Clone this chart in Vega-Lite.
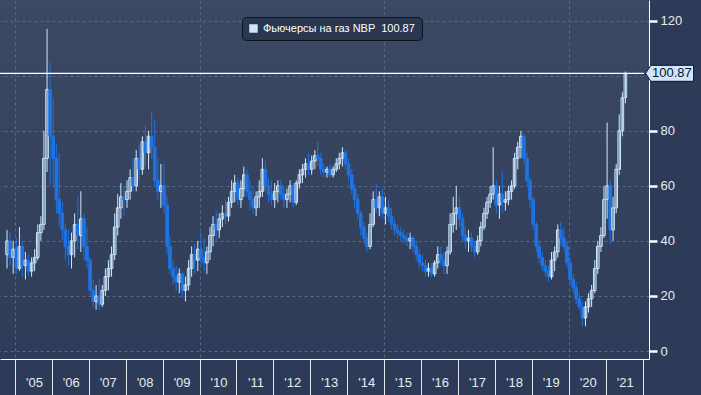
{
  "$schema": "https://vega.github.io/schema/vega-lite/v6.json",
  "width": 649,
  "height": 359,
  "autosize": {"type": "none"},
  "padding": {"left": 0, "top": 0, "right": 52, "bottom": 36},
  "background": "#2d3b58",
  "config": {
    "view": {"stroke": null, "fill": {"gradient": "linear", "x1": 0, "y1": 0, "x2": 0, "y2": 1, "stops": [{"offset": 0, "color": "#3b4964"}, {"offset": 1, "color": "#2e3c59"}]}},
    "font": "Liberation Sans",
    "axisX": {"labelOverlap": false, "ticks": true, "tickOpacity": 1, "tickSize": 36, "tickColor": "#e6e9ee", "tickWidth": 1},
    "legend": {"orient": "none", "legendX": 242, "legendY": 17, "fillColor": "#2b374f", "strokeColor": "#0f141c", "cornerRadius": 4, "padding": 6, "labelColor": "#ffffff", "labelFont": "Liberation Sans", "labelFontSize": 11, "symbolType": "square", "symbolSize": 72, "symbolStrokeWidth": 0, "symbolOpacity": 1}
  },
  "datasets": {
    "nbp": [
      {"d":"2004-10-15","o":35,"h":44,"l":30,"c":40},
      {"d":"2004-11-15","o":40,"h":43,"l":31,"c":34},
      {"d":"2004-12-15","o":34,"h":40,"l":28,"c":37},
      {"d":"2005-01-15","o":37,"h":41,"l":28,"c":30},
      {"d":"2005-02-15","o":30,"h":45,"l":29,"c":38},
      {"d":"2005-03-15","o":38,"h":40,"l":27,"c":31},
      {"d":"2005-04-15","o":31,"h":36,"l":26,"c":33},
      {"d":"2005-05-15","o":33,"h":35,"l":27,"c":29},
      {"d":"2005-06-15","o":29,"h":34,"l":27,"c":32},
      {"d":"2005-07-15","o":32,"h":37,"l":29,"c":34},
      {"d":"2005-08-15","o":34,"h":46,"l":33,"c":43},
      {"d":"2005-09-15","o":43,"h":49,"l":40,"c":46},
      {"d":"2005-10-15","o":46,"h":80,"l":44,"c":70},
      {"d":"2005-11-15","o":70,"h":117,"l":65,"c":95},
      {"d":"2005-12-15","o":95,"h":105,"l":60,"c":78},
      {"d":"2006-01-15","o":78,"h":92,"l":60,"c":70},
      {"d":"2006-02-15","o":70,"h":75,"l":50,"c":55},
      {"d":"2006-03-15","o":55,"h":72,"l":45,"c":50},
      {"d":"2006-04-15","o":50,"h":54,"l":40,"c":44},
      {"d":"2006-05-15","o":44,"h":46,"l":33,"c":38},
      {"d":"2006-06-15","o":38,"h":44,"l":31,"c":35},
      {"d":"2006-07-15","o":35,"h":43,"l":30,"c":40},
      {"d":"2006-08-15","o":40,"h":50,"l":34,"c":46},
      {"d":"2006-09-15","o":46,"h":56,"l":37,"c":42},
      {"d":"2006-10-15","o":42,"h":58,"l":36,"c":48},
      {"d":"2006-11-15","o":48,"h":50,"l":33,"c":38},
      {"d":"2006-12-15","o":38,"h":45,"l":30,"c":33},
      {"d":"2007-01-15","o":33,"h":34,"l":20,"c":22},
      {"d":"2007-02-15","o":22,"h":26,"l":16,"c":18},
      {"d":"2007-03-15","o":18,"h":24,"l":15,"c":20},
      {"d":"2007-04-15","o":20,"h":26,"l":15,"c":17},
      {"d":"2007-05-15","o":17,"h":24,"l":16,"c":22},
      {"d":"2007-06-15","o":22,"h":30,"l":20,"c":27},
      {"d":"2007-07-15","o":27,"h":33,"l":22,"c":30},
      {"d":"2007-08-15","o":30,"h":38,"l":27,"c":35},
      {"d":"2007-09-15","o":35,"h":50,"l":33,"c":45},
      {"d":"2007-10-15","o":45,"h":57,"l":42,"c":52},
      {"d":"2007-11-15","o":52,"h":61,"l":48,"c":56},
      {"d":"2007-12-15","o":56,"h":60,"l":49,"c":55},
      {"d":"2008-01-15","o":55,"h":62,"l":52,"c":58},
      {"d":"2008-02-15","o":58,"h":66,"l":55,"c":63},
      {"d":"2008-03-15","o":63,"h":70,"l":58,"c":60},
      {"d":"2008-04-15","o":60,"h":73,"l":58,"c":70},
      {"d":"2008-05-15","o":70,"h":75,"l":62,"c":66},
      {"d":"2008-06-15","o":66,"h":78,"l":64,"c":76},
      {"d":"2008-07-15","o":76,"h":82,"l":67,"c":72},
      {"d":"2008-08-15","o":72,"h":80,"l":66,"c":78},
      {"d":"2008-09-15","o":78,"h":87,"l":70,"c":74},
      {"d":"2008-10-15","o":74,"h":84,"l":60,"c":62},
      {"d":"2008-11-15","o":62,"h":70,"l":55,"c":58},
      {"d":"2008-12-15","o":58,"h":68,"l":52,"c":60},
      {"d":"2009-01-15","o":60,"h":68,"l":50,"c":53},
      {"d":"2009-02-15","o":53,"h":56,"l":35,"c":38},
      {"d":"2009-03-15","o":38,"h":42,"l":28,"c":30},
      {"d":"2009-04-15","o":30,"h":33,"l":24,"c":27},
      {"d":"2009-05-15","o":27,"h":31,"l":22,"c":25},
      {"d":"2009-06-15","o":25,"h":30,"l":21,"c":28},
      {"d":"2009-07-15","o":28,"h":29,"l":19,"c":22},
      {"d":"2009-08-15","o":22,"h":27,"l":18,"c":24},
      {"d":"2009-09-15","o":24,"h":33,"l":22,"c":30},
      {"d":"2009-10-15","o":30,"h":38,"l":27,"c":35},
      {"d":"2009-11-15","o":35,"h":39,"l":28,"c":33},
      {"d":"2009-12-15","o":33,"h":40,"l":29,"c":37},
      {"d":"2010-01-15","o":37,"h":43,"l":31,"c":34},
      {"d":"2010-02-15","o":34,"h":41,"l":29,"c":32},
      {"d":"2010-03-15","o":32,"h":38,"l":28,"c":36},
      {"d":"2010-04-15","o":36,"h":45,"l":33,"c":42},
      {"d":"2010-05-15","o":42,"h":49,"l":38,"c":46},
      {"d":"2010-06-15","o":46,"h":51,"l":40,"c":44},
      {"d":"2010-07-15","o":44,"h":50,"l":41,"c":48},
      {"d":"2010-08-15","o":48,"h":53,"l":45,"c":50},
      {"d":"2010-09-15","o":50,"h":55,"l":46,"c":49},
      {"d":"2010-10-15","o":49,"h":56,"l":47,"c":54},
      {"d":"2010-11-15","o":54,"h":62,"l":52,"c":58},
      {"d":"2010-12-15","o":58,"h":64,"l":54,"c":61},
      {"d":"2011-01-15","o":61,"h":63,"l":53,"c":55},
      {"d":"2011-02-15","o":55,"h":62,"l":52,"c":59},
      {"d":"2011-03-15","o":59,"h":67,"l":56,"c":64},
      {"d":"2011-04-15","o":64,"h":66,"l":56,"c":58},
      {"d":"2011-05-15","o":58,"h":62,"l":51,"c":55},
      {"d":"2011-06-15","o":55,"h":60,"l":50,"c":52},
      {"d":"2011-07-15","o":52,"h":58,"l":49,"c":56},
      {"d":"2011-08-15","o":56,"h":62,"l":52,"c":58},
      {"d":"2011-09-15","o":58,"h":70,"l":56,"c":66},
      {"d":"2011-10-15","o":66,"h":69,"l":58,"c":60},
      {"d":"2011-11-15","o":60,"h":63,"l":54,"c":57},
      {"d":"2011-12-15","o":57,"h":62,"l":53,"c":55},
      {"d":"2012-01-15","o":55,"h":61,"l":52,"c":58},
      {"d":"2012-02-15","o":58,"h":62,"l":54,"c":60},
      {"d":"2012-03-15","o":60,"h":62,"l":55,"c":57},
      {"d":"2012-04-15","o":57,"h":60,"l":52,"c":55},
      {"d":"2012-05-15","o":55,"h":59,"l":52,"c":57},
      {"d":"2012-06-15","o":57,"h":62,"l":54,"c":60},
      {"d":"2012-07-15","o":60,"h":61,"l":52,"c":54},
      {"d":"2012-08-15","o":54,"h":62,"l":53,"c":61},
      {"d":"2012-09-15","o":61,"h":66,"l":59,"c":64},
      {"d":"2012-10-15","o":64,"h":68,"l":61,"c":66},
      {"d":"2012-11-15","o":66,"h":70,"l":63,"c":68},
      {"d":"2012-12-15","o":68,"h":72,"l":64,"c":66},
      {"d":"2013-01-15","o":66,"h":71,"l":64,"c":69},
      {"d":"2013-02-15","o":69,"h":73,"l":66,"c":71},
      {"d":"2013-03-15","o":71,"h":76,"l":67,"c":70},
      {"d":"2013-04-15","o":70,"h":72,"l":64,"c":66},
      {"d":"2013-05-15","o":66,"h":68,"l":63,"c":65},
      {"d":"2013-06-15","o":65,"h":67,"l":63,"c":66},
      {"d":"2013-07-15","o":66,"h":68,"l":63,"c":64},
      {"d":"2013-08-15","o":64,"h":67,"l":63,"c":66},
      {"d":"2013-09-15","o":66,"h":70,"l":65,"c":68},
      {"d":"2013-10-15","o":68,"h":72,"l":66,"c":70},
      {"d":"2013-11-15","o":70,"h":74,"l":67,"c":72},
      {"d":"2013-12-15","o":72,"h":73,"l":66,"c":68},
      {"d":"2014-01-15","o":68,"h":70,"l":62,"c":64},
      {"d":"2014-02-15","o":64,"h":66,"l":57,"c":59},
      {"d":"2014-03-15","o":59,"h":61,"l":52,"c":55},
      {"d":"2014-04-15","o":55,"h":57,"l":48,"c":50},
      {"d":"2014-05-15","o":50,"h":51,"l":42,"c":45},
      {"d":"2014-06-15","o":45,"h":47,"l":39,"c":41},
      {"d":"2014-07-15","o":41,"h":43,"l":36,"c":38},
      {"d":"2014-08-15","o":38,"h":50,"l":37,"c":46},
      {"d":"2014-09-15","o":46,"h":58,"l":45,"c":55},
      {"d":"2014-10-15","o":55,"h":61,"l":50,"c":52},
      {"d":"2014-11-15","o":52,"h":58,"l":49,"c":56},
      {"d":"2014-12-15","o":56,"h":59,"l":48,"c":50},
      {"d":"2015-01-15","o":50,"h":56,"l":46,"c":52},
      {"d":"2015-02-15","o":52,"h":55,"l":47,"c":49},
      {"d":"2015-03-15","o":49,"h":52,"l":44,"c":46},
      {"d":"2015-04-15","o":46,"h":48,"l":42,"c":44},
      {"d":"2015-05-15","o":44,"h":46,"l":41,"c":43},
      {"d":"2015-06-15","o":43,"h":45,"l":40,"c":42},
      {"d":"2015-07-15","o":42,"h":44,"l":39,"c":41},
      {"d":"2015-08-15","o":41,"h":43,"l":38,"c":40},
      {"d":"2015-09-15","o":40,"h":43,"l":37,"c":41},
      {"d":"2015-10-15","o":41,"h":42,"l":36,"c":38},
      {"d":"2015-11-15","o":38,"h":40,"l":33,"c":35},
      {"d":"2015-12-15","o":35,"h":37,"l":30,"c":32},
      {"d":"2016-01-15","o":32,"h":35,"l":29,"c":31},
      {"d":"2016-02-15","o":31,"h":33,"l":27,"c":29},
      {"d":"2016-03-15","o":29,"h":32,"l":27,"c":30},
      {"d":"2016-04-15","o":30,"h":32,"l":27,"c":28},
      {"d":"2016-05-15","o":28,"h":33,"l":27,"c":32},
      {"d":"2016-06-15","o":32,"h":38,"l":30,"c":35},
      {"d":"2016-07-15","o":35,"h":38,"l":31,"c":33},
      {"d":"2016-08-15","o":33,"h":36,"l":28,"c":31},
      {"d":"2016-09-15","o":31,"h":38,"l":28,"c":36},
      {"d":"2016-10-15","o":36,"h":50,"l":35,"c":46},
      {"d":"2016-11-15","o":46,"h":56,"l":43,"c":50},
      {"d":"2016-12-15","o":50,"h":60,"l":44,"c":52},
      {"d":"2017-01-15","o":52,"h":56,"l":45,"c":48},
      {"d":"2017-02-15","o":48,"h":50,"l":40,"c":42},
      {"d":"2017-03-15","o":42,"h":45,"l":37,"c":40},
      {"d":"2017-04-15","o":40,"h":44,"l":36,"c":41},
      {"d":"2017-05-15","o":41,"h":43,"l":36,"c":38},
      {"d":"2017-06-15","o":38,"h":40,"l":34,"c":36},
      {"d":"2017-07-15","o":36,"h":42,"l":35,"c":40},
      {"d":"2017-08-15","o":40,"h":47,"l":38,"c":45},
      {"d":"2017-09-15","o":45,"h":52,"l":44,"c":50},
      {"d":"2017-10-15","o":50,"h":56,"l":48,"c":54},
      {"d":"2017-11-15","o":54,"h":60,"l":52,"c":57},
      {"d":"2017-12-15","o":57,"h":74,"l":55,"c":60},
      {"d":"2018-01-15","o":60,"h":62,"l":50,"c":53},
      {"d":"2018-02-15","o":53,"h":60,"l":48,"c":57},
      {"d":"2018-03-15","o":57,"h":65,"l":50,"c":54},
      {"d":"2018-04-15","o":54,"h":58,"l":51,"c":55},
      {"d":"2018-05-15","o":55,"h":60,"l":53,"c":58},
      {"d":"2018-06-15","o":58,"h":62,"l":55,"c":60},
      {"d":"2018-07-15","o":60,"h":72,"l":59,"c":70},
      {"d":"2018-08-15","o":70,"h":76,"l":66,"c":74},
      {"d":"2018-09-15","o":74,"h":80,"l":70,"c":78},
      {"d":"2018-10-15","o":78,"h":79,"l":68,"c":70},
      {"d":"2018-11-15","o":70,"h":72,"l":60,"c":62},
      {"d":"2018-12-15","o":62,"h":63,"l":52,"c":55},
      {"d":"2019-01-15","o":55,"h":56,"l":44,"c":46},
      {"d":"2019-02-15","o":46,"h":47,"l":36,"c":38},
      {"d":"2019-03-15","o":38,"h":40,"l":32,"c":34},
      {"d":"2019-04-15","o":34,"h":36,"l":29,"c":31},
      {"d":"2019-05-15","o":31,"h":33,"l":27,"c":29},
      {"d":"2019-06-15","o":29,"h":31,"l":25,"c":27},
      {"d":"2019-07-15","o":27,"h":36,"l":26,"c":33},
      {"d":"2019-08-15","o":33,"h":38,"l":29,"c":36},
      {"d":"2019-09-15","o":36,"h":46,"l":34,"c":44},
      {"d":"2019-10-15","o":44,"h":47,"l":38,"c":41},
      {"d":"2019-11-15","o":41,"h":45,"l":36,"c":38},
      {"d":"2019-12-15","o":38,"h":40,"l":30,"c":32},
      {"d":"2020-01-15","o":32,"h":34,"l":24,"c":26},
      {"d":"2020-02-15","o":26,"h":28,"l":21,"c":23},
      {"d":"2020-03-15","o":23,"h":25,"l":17,"c":19},
      {"d":"2020-04-15","o":19,"h":21,"l":15,"c":16},
      {"d":"2020-05-15","o":16,"h":18,"l":9,"c":12},
      {"d":"2020-06-15","o":12,"h":18,"l":9,"c":16},
      {"d":"2020-07-15","o":16,"h":21,"l":14,"c":19},
      {"d":"2020-08-15","o":19,"h":24,"l":16,"c":22},
      {"d":"2020-09-15","o":22,"h":33,"l":21,"c":30},
      {"d":"2020-10-15","o":30,"h":40,"l":28,"c":38},
      {"d":"2020-11-15","o":38,"h":45,"l":36,"c":42},
      {"d":"2020-12-15","o":42,"h":60,"l":41,"c":55},
      {"d":"2021-01-15","o":55,"h":83,"l":48,"c":60},
      {"d":"2021-02-15","o":60,"h":62,"l":39,"c":44},
      {"d":"2021-03-15","o":44,"h":56,"l":40,"c":52},
      {"d":"2021-04-15","o":52,"h":68,"l":50,"c":66},
      {"d":"2021-05-15","o":66,"h":86,"l":64,"c":80},
      {"d":"2021-06-15","o":80,"h":94,"l":78,"c":92},
      {"d":"2021-07-15","o":92,"h":101.5,"l":90,"c":100.87}
    ],
    "last": [
      {"d":"2022-01-15","start":"2004-01-01","v":100.87,"name":"Фьючерсы на газ NBP \u00a0100.87"}
    ]
  },
  "encoding": {
    "x": {
      "field": "d", "type": "temporal",
      "scale": {"domain": [{"year": 2004, "month": 9, "date": 25}, {"year": 2022, "month": 1, "date": 15}], "nice": false},
      "axis": {
        "title": null,
        "values": [{"year":2005,"month":1,"date":1},{"year":2006,"month":1,"date":1},{"year":2007,"month":1,"date":1},{"year":2008,"month":1,"date":1},{"year":2009,"month":1,"date":1},{"year":2010,"month":1,"date":1},{"year":2011,"month":1,"date":1},{"year":2012,"month":1,"date":1},{"year":2013,"month":1,"date":1},{"year":2014,"month":1,"date":1},{"year":2015,"month":1,"date":1},{"year":2016,"month":1,"date":1},{"year":2017,"month":1,"date":1},{"year":2018,"month":1,"date":1},{"year":2019,"month":1,"date":1},{"year":2020,"month":1,"date":1},{"year":2021,"month":1,"date":1},{"year":2022,"month":1,"date":1}],
        "labelExpr": "year(datum.value) > 2021 ? '' : \"'\" + timeFormat(datum.value, '%y')",
        "ticks": true,
        "tickSize": 36,
        "tickColor": "#e6e9ee",
        "domainColor": "#ffffff",
        "labelOffset": 19,
        "labelPadding": -19,
        "labelColor": "#e8ebf0",
        "labelFont": "Liberation Sans",
        "labelFontSize": 13,
        "labelOverlap": false,
        "labelFlush": false,
        "labelBound": false,
        "grid": true,
        "gridOpacity": {"condition": {"test": "year(datum.value) % 5 == 0", "value": 1}, "value": 0},
        "gridDash": [3, 3],
        "gridColor": "#5a6882"
      }
    }
  },
  "layer": [
    {
      "data": {"name": "nbp"},
      "mark": {"type": "rule", "strokeWidth": 1},
      "encoding": {
        "y": {
          "field": "l", "type": "quantitative",
          "scale": {"domain": [-2.9, 127.5], "nice": false, "zero": false},
          "axis": {
            "orient": "right",
            "title": null,
            "values": [0, 10, 20, 30, 40, 50, 60, 70, 80, 90, 100, 110, 120],
            "labelExpr": "datum.value % 20 == 0 && datum.value != 100 ? datum.label : ''",
            "tickSize": {"condition": {"test": "datum.value % 20 == 0", "value": 8}, "value": 4},
            "tickWidth": {"condition": {"test": "datum.value % 20 == 0", "value": 2.5}, "value": 1},
            "tickColor": "#ffffff",
            "domainColor": "#ffffff",
            "grid": true,
            "gridOpacity": {"condition": {"test": "datum.value % 20 == 0", "value": 1}, "value": 0},
            "gridDash": [3, 3],
            "gridColor": "#5a6882",
            "labelColor": "#e8ebf0",
            "labelFont": "Liberation Sans",
            "labelFontSize": 13,
            "labelPadding": 3,
            "labelOverlap": false
          }
        },
        "y2": {"field": "h"},
        "color": {"condition": {"test": "datum.c >= datum.o", "value": "#cde8ff"}, "value": "#1e73e4"}
      }
    },
    {
      "data": {"name": "nbp"},
      "mark": {"type": "bar", "size": 2.6, "strokeWidth": 1},
      "encoding": {
        "y": {"field": "o", "type": "quantitative"},
        "y2": {"field": "c"},
        "fill": {"condition": {"test": "datum.c >= datum.o", "value": "transparent"}, "value": "#1e73e4"},
        "stroke": {"condition": {"test": "datum.c >= datum.o", "value": "#cde8ff"}, "value": "#1e73e4"}
      }
    },
    {
      "data": {"name": "last"},
      "mark": {"type": "rule", "color": "#ffffff", "strokeWidth": 1.3},
      "encoding": {
        "x": {"field": "start", "type": "temporal"},
        "x2": {"field": "d"},
        "y": {"field": "v", "type": "quantitative"}
      }
    },
    {
      "data": {"name": "last"},
      "mark": {"type": "point", "shape": "M 0.2 0 L 0.85 -1 L 6.2 -1 L 6.2 1 L 0.85 1 Z", "size": 256, "filled": true, "stroke": "#0d1420", "strokeWidth": 1, "opacity": 1},
      "encoding": {
        "y": {"field": "v", "type": "quantitative"},
        "color": {"field": "name", "type": "nominal", "scale": {"range": ["#d2e4fb"]}, "legend": {"title": null, "symbolType": "square", "symbolSize": 72, "symbolStrokeWidth": 0, "symbolOpacity": 1}}
      }
    },
    {
      "data": {"name": "last"},
      "mark": {"type": "text", "align": "left", "baseline": "middle", "dx": 8, "font": "Liberation Sans", "fontSize": 13, "color": "#0b1526"},
      "encoding": {
        "y": {"field": "v", "type": "quantitative"},
        "text": {"value": "100.87"}
      }
    }
  ]
}
